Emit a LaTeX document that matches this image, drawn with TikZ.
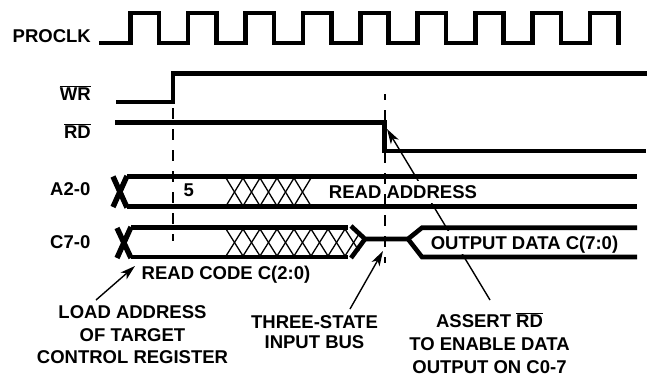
\documentclass[tikz,border=0pt]{standalone}
\usepackage{fontspec}
\setmainfont{Liberation Sans}
\usetikzlibrary{arrows.meta, positioning}
\newcommand{\barsig}[1]{$\overline{\mbox{#1}}$}

\begin{document}
\begin{tikzpicture}[
  x=1pt, y=-1pt,
  wave/.style={line width=4.6pt},
  cross/.style={line width=5.4pt},
  hatch/.style={line width=1.3pt},
  dashline/.style={line width=1.2pt, dash pattern=on 10.5pt off 10.5pt},
  callout/.style={line width=1.4pt, -{Stealth[length=15pt, width=9pt, inset=4pt]}},
  sig/.style={font=\fontsize{18.5}{22.5}\selectfont\bfseries, inner sep=0pt, anchor=east},
  note/.style={font=\fontsize{18.5}{22.5}\selectfont\bfseries, inner sep=0pt, align=center},
  mask/.style={note, fill=white, inner xsep=2pt, text height=13.3pt, text depth=0pt},
]
  \useasboundingbox (0,0) rectangle (647,378);

  \coordinate (loadtail) at (96,300);
  \coordinate (loadtip) at (135,266);
  \coordinate (tristail) at (350,309);
  \coordinate (tristip) at (383,251);
  \coordinate (asserttail) at (490,300);
  \coordinate (asserttip) at (387,129);
  \draw[callout] (loadtail) -- (loadtip);
  \draw[callout] (tristail) -- (tristip);
  \draw[callout] (asserttail) -- (asserttip);

  \node[sig] (proclk) at (91,36) {PROCLK};
  \node[sig, below=57pt of proclk.east, anchor=east] (wrlbl) {\barsig{WR}};
  \node[sig, below=38pt of wrlbl.east, anchor=east] (rdlbl) {\barsig{RD}};
  \node[sig] (alabel) at (90.5,189) {A2-0};
  \node[sig, below=53pt of alabel.east, anchor=east] (clabel) {C7-0};

  \node[note] (five) at (188.7,190.5) {5};
  \node[mask, minimum height=22pt] (readaddr) at (403,192) {READ ADDRESS};
  \node[mask, minimum height=23pt] (outdata) at (524.5,242.5) {OUTPUT DATA C(7:0)};
  \node[note] (readcode) at (226,275) {READ CODE C(2:0)};
  \node[note] (loadlbl) at (132.5,335) {LOAD ADDRESS\\OF TARGET\\CONTROL REGISTER};
  \node[note, font=\fontsize{18.5}{20.5}\selectfont\bfseries] (trislbl) at (314.5,332) {THREE-STATE\\INPUT BUS};
  \node[note, font=\fontsize{18.5}{23}\selectfont\bfseries] (assertlbl) at (489.5,343) {ASSERT \barsig{RD}\\TO ENABLE DATA\\OUTPUT ON C0-7};

  \draw[wave] (99,43) -- (130.5,43)
    \foreach \i in {0,...,7} { -- ++(0,-30) -- ++(28.4,0) -- ++(0,30) -- ++(29.05,0) }
    -- ++(0,-30) -- ++(28.4,0) -- ++(0,32);

  \draw[wave] (116,102) -- (173,102) -- (173,73.3) -- (647,73.3);
  \draw[wave] (115,122.3) -- (384.7,122.3) -- (384.7,151) -- (646,151);

  \draw[wave] (127,176.7) -- (637,176.7);
  \draw[wave] (127,206.7) -- (637,206.7);
  \draw[cross] (113,176.5) -- (127,207.5);
  \draw[cross] (127,176) -- (113,207);

  \draw[wave] (131,227.7) -- (348,227.7);
  \draw[wave] (131,257) -- (348,257);
  \draw[cross] (117,228) -- (131,258);
  \draw[cross] (131,227) -- (117,258);
  \draw[wave] (351,226) -- (365,239) -- (410,239);
  \draw[wave] (351,258) -- (365,239);
  \draw[wave] (637,227.7) -- (422,227.7) -- (408,239);
  \draw[wave] (637,257) -- (422,257) -- (408,239);

  \foreach \i in {0,...,4} {
    \draw[hatch] ({226+17*\i},178) -- ++(17,28);
    \draw[hatch] ({226+17*\i},206) -- ++(17,-28);
  }
  \foreach \i in {0,...,6} {
    \draw[hatch] ({226+17*\i},229) -- ++(17,27);
    \draw[hatch] ({226+17*\i},256) -- ++(17,-27);
  }
  \draw[hatch] (345,229) -- (359,251);
  \draw[hatch] (345,256) -- (359,234);

  \draw[dashline] (173,108) -- (173,241);
  \draw[dashline, dash phase=5pt] (385,94) -- (385,263);
\end{tikzpicture}
\end{document}
